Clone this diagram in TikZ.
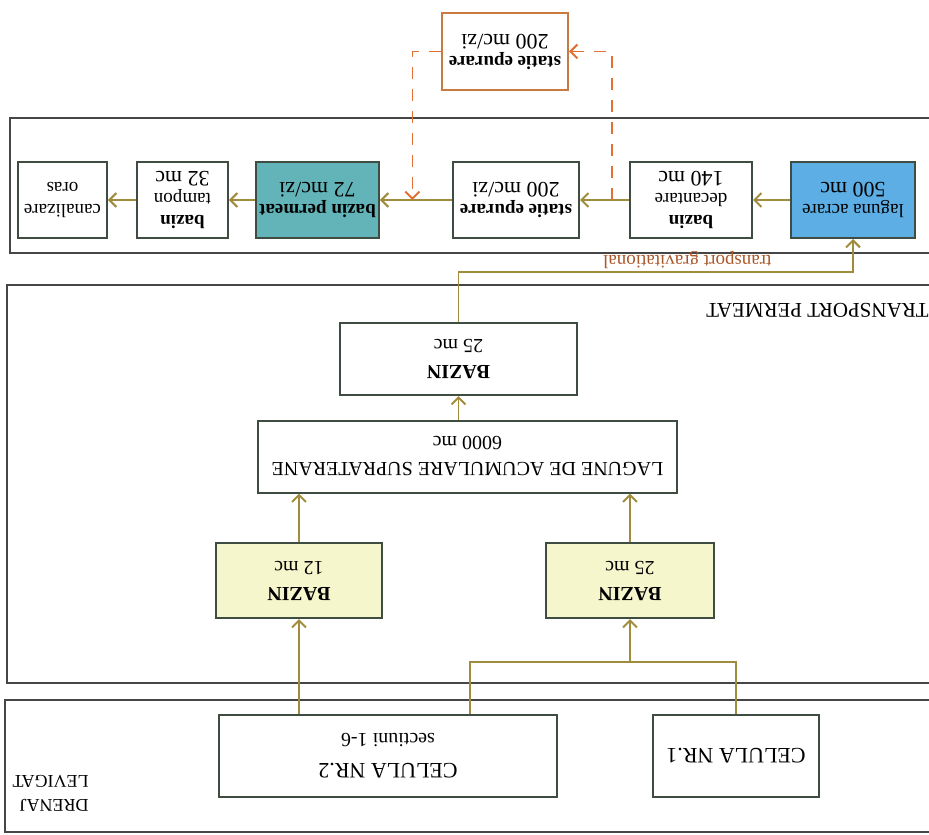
\documentclass[tikz,border=0pt]{standalone}
\usepackage{fontspec}
\setmainfont{Liberation Serif}
\usepackage{xcolor}
\usepackage{tikz}
\usetikzlibrary{arrows.meta,positioning,calc}

\definecolor{olivebr}{RGB}{160,140,60}
\definecolor{dashorange}{RGB}{226,112,52}
\definecolor{orangebox}{RGB}{200,122,64}
\definecolor{gravtext}{RGB}{170,88,40}
\definecolor{boxline}{RGB}{62,76,66}
\definecolor{frameline}{RGB}{70,70,70}
\definecolor{lagblue}{RGB}{92,174,228}
\definecolor{permteal}{RGB}{98,180,184}
\definecolor{baryellow}{RGB}{246,246,204}

\newcommand{\volnum}[1]{{\fontsize{11}{12}\selectfont #1}}

\tikzset{
	box/.style={draw=boxline, line width=1pt, align=center, inner sep=0.5pt, fill=white},
	cellbox/.style={box, minimum height=41pt, font=\fontsize{11}{15}\selectfont},
	tankbox/.style={box, minimum height=36pt, font=\fontsize{10}{13}\selectfont},
	rowbox/.style={box, minimum height=38pt, font=\fontsize{9.5}{11}\selectfont},
	frame/.style={draw=frameline, line width=1pt},
	pipe/.style={draw=olivebr, line width=0.8pt},
	flow/.style={pipe, -{Straight Barb[length=3.5pt,width=7pt,line width=1pt]}},
	bypass/.style={draw=dashorange, line width=0.8pt, dash pattern=on 6pt off 5pt, -{Straight Barb[length=3.5pt,width=7pt,line width=1pt]}}
}

\begin{document}
\begin{tikzpicture}[x=0.5pt, y=0.5pt, rotate=180, transform shape]
		\useasboundingbox (0,0) rectangle (929,834);

		% frames
		\draw[frame] (0,700) -- (924,700) -- (924,832) -- (0,832);
		\draw[frame] (0,285) -- (922,285) -- (922,683) -- (0,683);
		\draw[frame] (0,118) -- (919,118) -- (919,253) -- (0,253);

		% drenaj levigat
		\node[cellbox, minimum width=83pt] (cel1) at (193,756) {CELULA NR.1};
		\node[cellbox, minimum width=169pt] (cel2) at (541,756) {CELULA NR.2\\{\fontsize{10}{12}\selectfont sectiuni 1-6}};
		\node[anchor=west, align=left, inner sep=0pt, font=\fontsize{9}{12}\selectfont] (drenaj) at (840,793) {DRENAJ\\LEVIGAT};

		% transport permeat
		\node[anchor=west, inner sep=0pt, font=\fontsize{10.5}{12}\selectfont] (tpermeat) at (0,310) {TRANSPORT PERMEAT};
		\node[tankbox, fill=baryellow, minimum width=84pt, minimum height=37.5pt] (baz25y) at (299,580.5) {\textbf{BAZIN}\\25 mc};
		\node[tankbox, fill=baryellow, minimum width=83pt, minimum height=37.5pt] (baz12) at (630,580.5) {\textbf{BAZIN}\\12 mc};
		\node[tankbox, minimum width=209.5pt] (lagune) at (461.5,456.5) {LAGUNE DE ACUMULARE SUPRATERANE\\6000 mc};
		\node[tankbox, minimum width=118.5pt] (baz25) at (470.5,359) {\textbf{BAZIN}\\25 mc};

		% statie
		\node[rowbox, fill=lagblue, minimum width=62pt] (laguna) at (76,200) {laguna acrare\\\volnum{500 mc}};
		\node[rowbox, minimum width=61pt] (decant) at (238,200) {\textbf{bazin}\\decantare\\\volnum{140 mc}};
		\node[rowbox, minimum width=63pt] (statie) at (413,200) {\textbf{statie epurare}\\\volnum{200 mc/zi}};
		\node[rowbox, fill=permteal, minimum width=61.5pt] (permeat) at (611.5,200) {\textbf{bazin permeat}\\\volnum{72 mc/zi}};
		\node[rowbox, minimum width=45.5pt] (tampon) at (746.5,200) {\textbf{bazin}\\tampon\\\volnum{32 mc}};
		\node[rowbox, minimum width=44.5pt] (canal) at (866.5,200) {canalizare\\oras};
		\node[rowbox, draw=orangebox, minimum width=63pt, minimum height=38.5pt] (statie2) at (424,51.5) {\textbf{statie epurare}\\\volnum{200 mc/zi}};

		% legaturi
		\coordinate (jn) at (459,662);
		\draw[pipe] (cel1.south) |- (jn) -- (jn |- cel2.south);
		\draw[flow] (baz25y.north |- jn) -- (baz25y.north);
		\draw[flow] (baz12.north |- cel2.south) -- (baz12.north);
		\draw[flow] (baz25y.south) -- (baz25y.south |- lagune.north);
		\draw[flow] (baz12.south) -- (baz12.south |- lagune.north);
		\draw[flow] (lagune.south -| baz25.north) -- (baz25.north);
		\draw[flow] (baz25.south) -- ++(0,-50) -| node[pos=0.29, below, inner sep=1.5pt, text=gravtext, font=\fontsize{9.5}{10}\selectfont] {transport gravitational} (laguna.north);

		\draw[flow] (laguna.east) -- (decant.west);
		\draw[flow] (decant.east) -- (statie.west);
		\draw[flow] (statie.east) -- (permeat.west);
		\draw[flow] (permeat.east) -- (tampon.west);
		\draw[flow] (tampon.east) -- (canal.west);

		\coordinate (br) at ($(decant.east)!0.35!(statie.west)$);
		\coordinate (mg) at ($(statie.east)!0.55!(permeat.west)$);
		\draw[bypass] (br) |- (statie2.west);
		\draw[bypass] (statie2.east) -| (mg);
	\end{tikzpicture}
\end{document}
